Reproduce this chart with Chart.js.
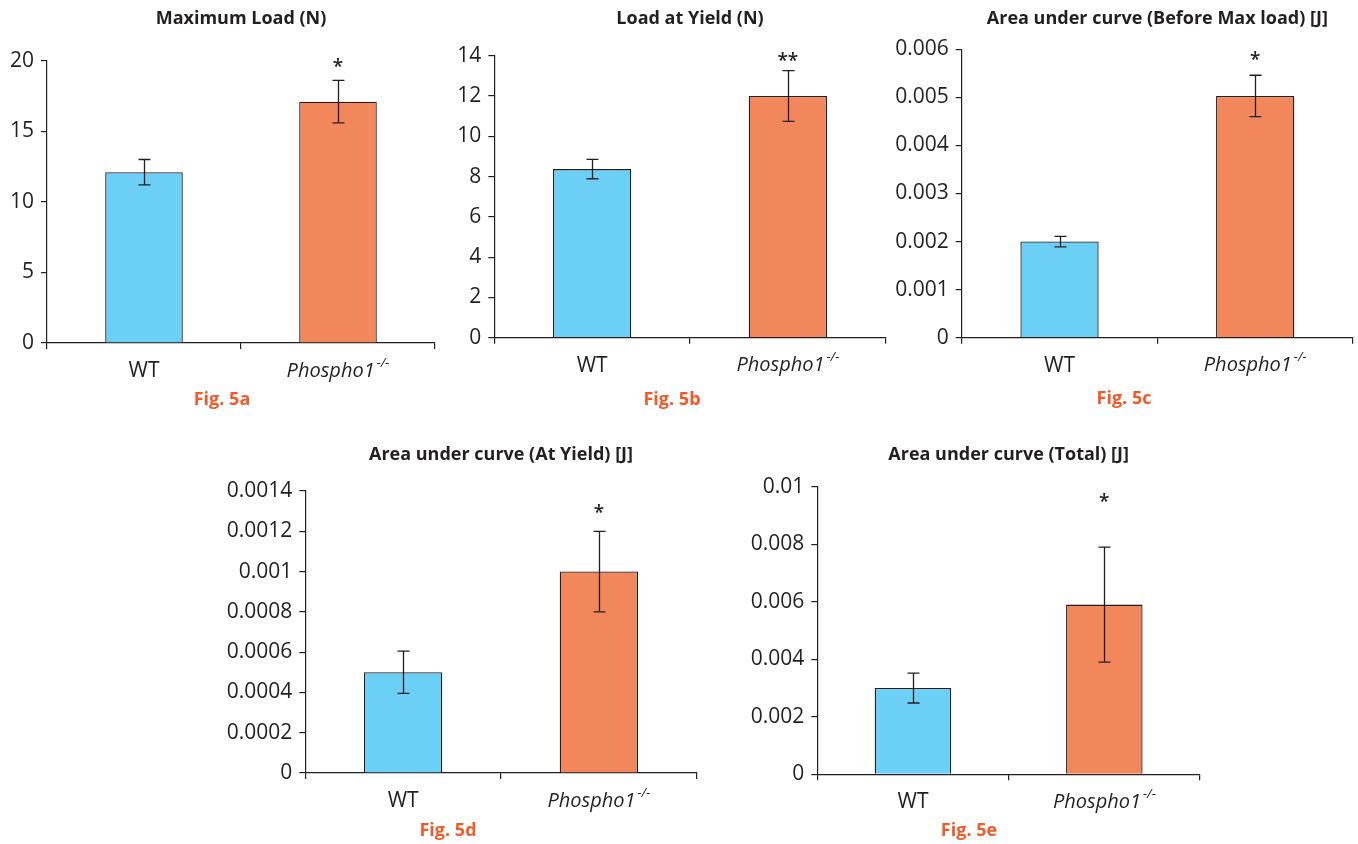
<!DOCTYPE html>
<html>
<head>
<meta charset="utf-8">
<script src="https://cdn.jsdelivr.net/npm/chart.js@4.4.0/dist/chart.umd.min.js"></script>
<style>
html, body { margin: 0; padding: 0; background: #fff; }
#page { position: relative; width: 1358px; height: 844px; overflow: hidden; }
#page canvas { position: absolute; left: 0; top: 0; }
</style>
</head>
<body>
<div id="page"></div>
<script>
// data
const categories = ['WT', 'Phospho1'];
const koSup = '-/-';
const titles = ['Maximum Load (N)', 'Load at Yield (N)', 'Area under curve (Before Max load) [J]',
                'Area under curve (At Yield) [J]', 'Area under curve (Total) [J]'];
const figLabels = ['Fig. 5a', 'Fig. 5b', 'Fig. 5c', 'Fig. 5d', 'Fig. 5e'];
const wtMean = [12.1, 8.37, 0.002, 0.0005, 0.003];
const wtErr  = [0.9, 0.48, 0.00011, 0.000105, 0.00052];
const koMean = [17.1, 12.0, 0.00503, 0.001, 0.0059];
const koErr  = [1.5, 1.26, 0.00043, 0.0002, 0.002];
const stars  = ['*', '**', '*', '*', '*'];
const starAt = [19.8, 13.9, 0.00584, 0.00131, 0.00957];
const yMax   = [20, 14, 0.006, 0.0014, 0.01];
const yStep  = [5, 2, 0.001, 0.0002, 0.002];

// layout (page pixels)
const W = 1358, H = 844;
const panels = [
  { left: 47,    right: 435,  top: 60.7,  bottom: 343,   titleY: 19,  figX: 222,  figY: 400 },
  { left: 494.3, right: 885.7, top: 55.7, bottom: 337.7, titleY: 19,  figX: 672,  figY: 400 },
  { left: 961.7, right: 1353, top: 49.3,  bottom: 337.7, titleY: 19,  figX: 1124, figY: 399 },
  { left: 305.3, right: 696.7, top: 491,  bottom: 773,   titleY: 455, figX: 448,  figY: 831 },
  { left: 817.3, right: 1200, top: 486.7, bottom: 774.3, titleY: 455, figX: 969,  figY: 831 }
];

const ink = '#231f20';
const blue = '#6ccff6';
const orange = '#f3875c';
const figColor = '#f15a29';
const font = '"Open Sans", "Liberation Sans", sans-serif';

function zeroPad(s) {
  s.paddingTop = 0; s.paddingBottom = 0; s.paddingLeft = 0; s.paddingRight = 0;
}

function decor(i, p) {
  return {
    id: 'decor' + i,
    afterDatasetsDraw: function(chart) {
      const ctx = chart.ctx, xs = chart.scales.x, ys = chart.scales.y, area = chart.chartArea;
      const means = [wtMean[i], koMean[i]], errs = [wtErr[i], koErr[i]];
      ctx.save();
      // error bars
      ctx.strokeStyle = ink;
      ctx.lineWidth = 1.3;
      means.forEach(function(m, k) {
        const x = Math.round(xs.getPixelForValue(k)) + 0.5;
        const y1 = ys.getPixelForValue(m + errs[k]), y2 = ys.getPixelForValue(m - errs[k]);
        ctx.beginPath();
        ctx.moveTo(x, y1); ctx.lineTo(x, y2);
        ctx.moveTo(x - 6, y1); ctx.lineTo(x + 6, y1);
        ctx.moveTo(x - 6, y2); ctx.lineTo(x + 6, y2);
        ctx.stroke();
      });
      ctx.fillStyle = ink;
      ctx.textAlign = 'center';
      ctx.textBaseline = 'middle';
      // significance stars
      ctx.font = '600 19px ' + font;
      ctx.fillText(stars[i], xs.getPixelForValue(1), ys.getPixelForValue(starAt[i]) + 4);
      // category labels
      const ly = area.bottom + 28;
      ctx.font = '21px ' + font;
      ctx.fillText(categories[0], xs.getPixelForValue(0), ly);
      ctx.font = 'italic 20px ' + font;
      const w1 = ctx.measureText(categories[1]).width;
      ctx.font = 'italic 13px ' + font;
      const w2 = ctx.measureText(koSup).width;
      const x0 = xs.getPixelForValue(1) - (w1 + w2 + 2) / 2;
      ctx.textAlign = 'left';
      ctx.font = 'italic 20px ' + font;
      ctx.fillText(categories[1], x0, ly);
      ctx.font = 'italic 13px ' + font;
      ctx.fillText(koSup, x0 + w1 + 2, ly - 8);
      // title
      ctx.textAlign = 'center';
      ctx.font = 'bold 18px ' + font;
      ctx.fillText(titles[i], (area.left + area.right) / 2, p.titleY);
      // figure label
      ctx.fillStyle = figColor;
      ctx.font = 'bold 18px ' + font;
      ctx.fillText(figLabels[i], p.figX, p.figY);
      ctx.restore();
    }
  };
}

const page = document.getElementById('page');
panels.forEach(function(p, i) {
  const cv = document.createElement('canvas');
  cv.width = W; cv.height = H;
  page.appendChild(cv);
  new Chart(cv, {
    type: 'bar',
    data: {
      labels: categories,
      datasets: [{
        data: [wtMean[i], koMean[i]],
        backgroundColor: [blue, orange],
        borderColor: ink,
        borderWidth: 1.3,
        barPercentage: 0.4,
        categoryPercentage: 1
      }]
    },
    options: {
      responsive: false,
      animation: false,
      devicePixelRatio: 1,
      layout: { padding: { left: 0, top: p.top, right: W - p.right, bottom: H - p.bottom - 10 } },
      plugins: { legend: { display: false }, tooltip: { enabled: false }, title: { display: false } },
      scales: {
        x: {
          ticks: { display: false },
          grid: { drawOnChartArea: false, color: ink, tickLength: 6, lineWidth: 1.2 },
          border: { color: ink, width: 1.2 },
          afterFit: function(s) { s.height = 10; zeroPad(s); }
        },
        y: {
          min: 0,
          max: yMax[i],
          ticks: {
            stepSize: yStep[i],
            padding: 7,
            color: ink,
            font: { family: font, size: 21 },
            callback: function(v) { return String(+v.toFixed(6)); }
          },
          grid: { drawOnChartArea: false, color: ink, tickLength: 6, lineWidth: 1.2 },
          border: { color: ink, width: 1.2 },
          afterFit: function(s) { s.width = p.left; zeroPad(s); }
        }
      }
    },
    plugins: [decor(i, p)]
  });
});
</script>
</body>
</html>
